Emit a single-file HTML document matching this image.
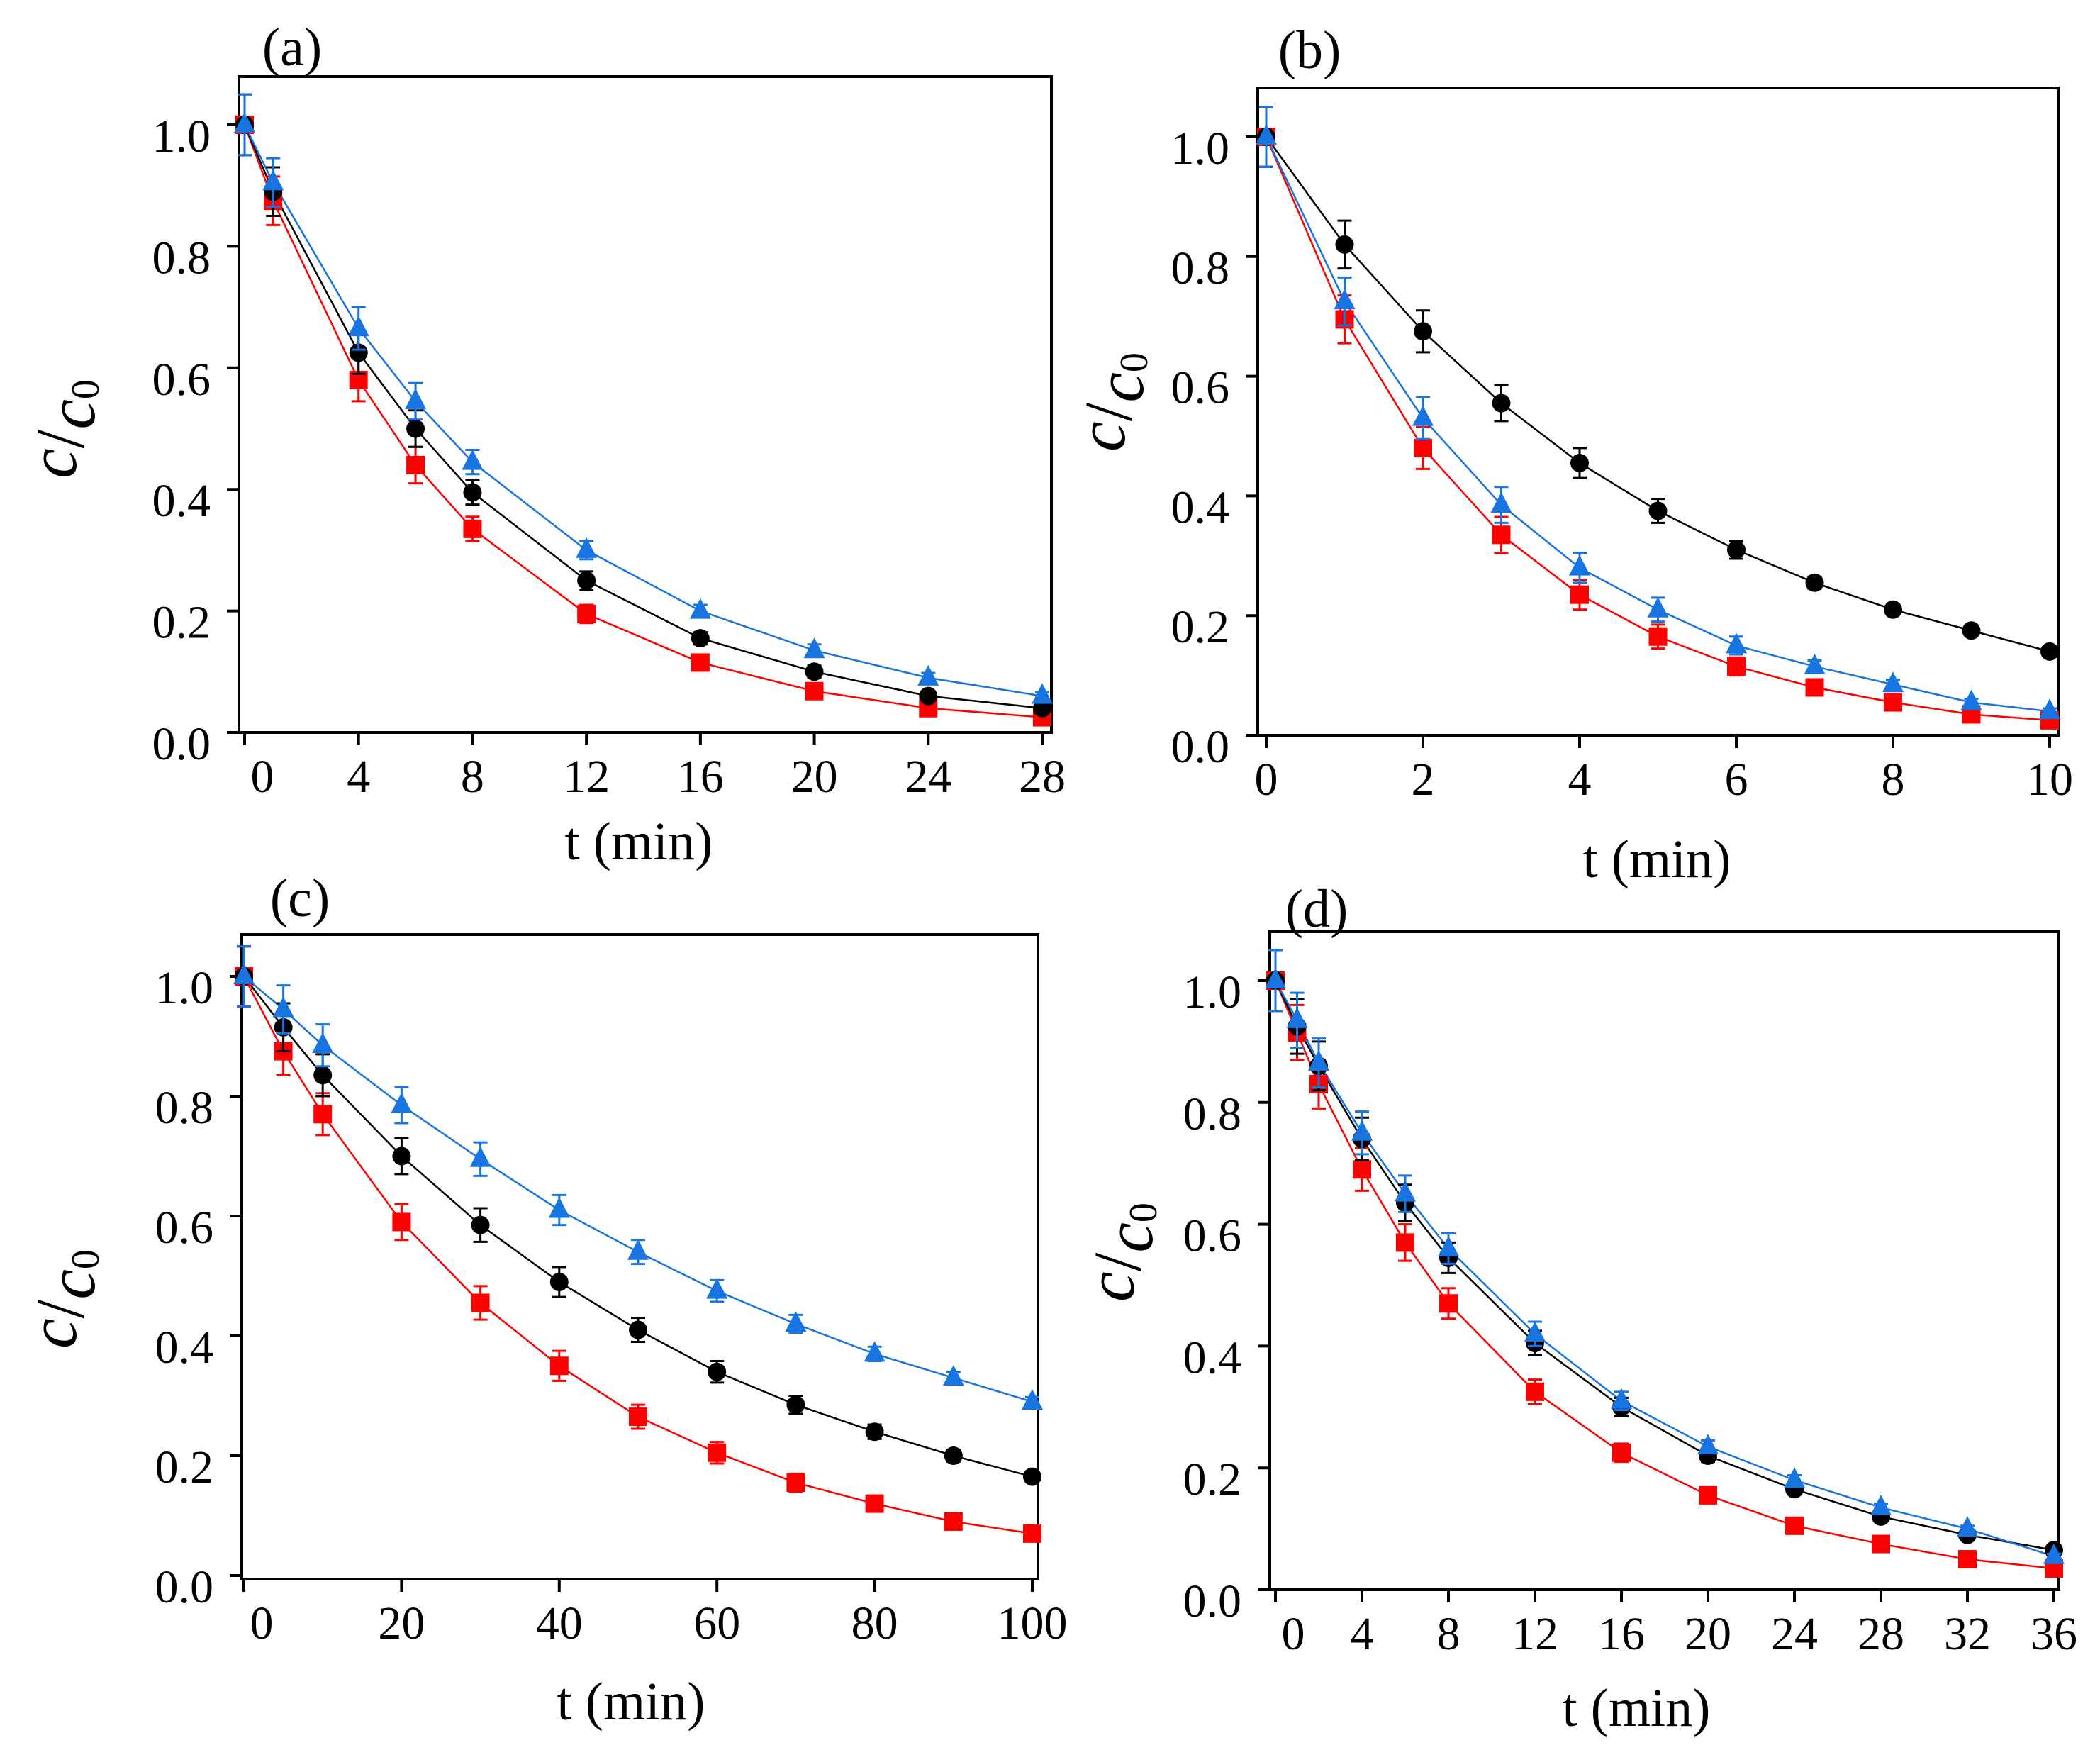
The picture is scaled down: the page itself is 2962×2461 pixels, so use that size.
<!DOCTYPE html>
<html><head><meta charset="utf-8">
<style>
html,body{margin:0;padding:0;background:#fff;}
svg{display:block;}
text{font-family:"Liberation Serif",serif;fill:#000;}
</style></head>
<body>
<svg id="fig" width="2962" height="2461" viewBox="0 0 2962 2461" xmlns="http://www.w3.org/2000/svg"></svg>
<script>
// ---- data ----
const aX=[0,1,4,6,8,12,16,20,24,28];
const aBlack=[1.0,0.89,0.625,0.50,0.395,0.25,0.155,0.10,0.06,0.04];
const aRed=[1.0,0.875,0.58,0.44,0.335,0.195,0.115,0.068,0.04,0.025];
const aBlue=[1.0,0.905,0.665,0.545,0.445,0.30,0.20,0.135,0.09,0.06];
const aErr=[0.05,0.04,0.035,0.03,0.02,0.015,0.01,0.01,0.008,0.006];
const aTicks=[0,4,8,12,16,20,24,28];

const bX=[0,1,2,3,4,5,6,7,8,9,10];
const bBlack=[1.0,0.82,0.675,0.555,0.455,0.375,0.31,0.255,0.21,0.175,0.14];
const bRed=[1.0,0.695,0.48,0.335,0.235,0.165,0.115,0.08,0.055,0.035,0.025];
const bBlue=[1.0,0.725,0.53,0.385,0.28,0.21,0.15,0.115,0.085,0.055,0.04];
const bErr=[0.05,0.04,0.035,0.03,0.025,0.02,0.015,0.01,0.008,0.006,0.005];
const bTicks=[0,2,4,6,8,10];

const cX=[0,5,10,20,30,40,50,60,70,80,90,100];
const cBlack=[1.0,0.915,0.835,0.70,0.585,0.49,0.41,0.34,0.285,0.24,0.20,0.165];
const cRed=[1.0,0.875,0.77,0.59,0.455,0.35,0.265,0.205,0.155,0.12,0.09,0.07];
const cBlue=[1.0,0.945,0.885,0.785,0.695,0.61,0.54,0.475,0.42,0.37,0.33,0.29];
const cErr=[0.05,0.04,0.035,0.03,0.028,0.025,0.02,0.018,0.015,0.012,0.01,0.008];
const cTicks=[0,20,40,60,80,100];

const dX=[0,1,2,4,6,8,12,16,20,24,28,32,36];
const dBlack=[1.0,0.925,0.86,0.74,0.635,0.545,0.405,0.30,0.22,0.165,0.12,0.09,0.065];
const dRed=[1.0,0.915,0.83,0.69,0.57,0.47,0.325,0.225,0.155,0.105,0.075,0.05,0.035];
const dBlue=[1.0,0.935,0.865,0.75,0.65,0.56,0.42,0.31,0.235,0.18,0.135,0.10,0.055];
const dErr=[0.05,0.045,0.04,0.035,0.03,0.025,0.02,0.015,0.01,0.008,0.006,0.005,0.004];
const dTicks=[0,4,8,12,16,20,24,28,32,36];

const yTicks=[0.0,0.2,0.4,0.6,0.8,1.0];

const NS="http://www.w3.org/2000/svg";
const svg=document.getElementById('fig');
function mk(tag,attrs,parent){const e=document.createElementNS(NS,tag);for(const k in attrs)e.setAttribute(k,attrs[k]);(parent||svg).appendChild(e);return e;}

const panels=[
 {id:'a',L:337,T:108,R:1483,B:1033,x0:345,xu:(1470-345)/28,y0:1033,yu:857,xs:aX,blk:aBlack,red:aRed,blu:aBlue,err:aErr,ticks:aTicks,zeroShift:25,
  lab:[412,66],xt:[901,1186],yt:[85,605]},
 {id:'b',L:1774,T:124,R:2903,B:1037,x0:1786,xu:(2891-1786)/10,y0:1037,yu:844,xs:bX,blk:bBlack,red:bRed,blu:bBlue,err:bErr,ticks:bTicks,zeroShift:0,
  lab:[1847,70],xt:[2337,1211],yt:[1564,567]},
 {id:'c',L:341,T:1318,R:1464,B:2227,x0:344,xu:(1456-344)/100,y0:2222,yu:845,xs:cX,blk:cBlack,red:cRed,blu:cBlue,err:cErr,ticks:cTicks,zeroShift:25,
  lab:[423,1266],xt:[890,2399],yt:[85,1832]},
 {id:'d',L:1791,T:1314,R:2904,B:2242,x0:1799,xu:(2897-1799)/36,y0:2242,yu:859,xs:dX,blk:dBlack,red:dRed,blu:dBlue,err:dErr,ticks:dTicks,zeroShift:25,
  lab:[1857,1281],xt:[2308,2408],yt:[1577,1766]}
];

panels.forEach(p=>{
  const g=mk('g',{});
  
  
  const X=v=>p.x0+v*p.xu, Y=v=>p.y0-v*p.yu;
  const frame=mk('rect',{x:p.L,y:p.T,width:p.R-p.L,height:p.B-p.T,fill:'none',stroke:'#000','stroke-width':4},g);
  
  
  yTicks.forEach(v=>{
    const y=Y(v);
    const t=mk('line',{x1:p.L-17,x2:p.L,y1:y,y2:y,stroke:'#000','stroke-width':4},g);
    
    
    const tx=mk('text',{x:p.L-40,y:y+38,'font-size':66,'text-anchor':'end'},g);
    tx.textContent=v.toFixed(1);
    
    
  });
  p.ticks.forEach(v=>{
    const x=X(v);
    const t=mk('line',{x1:x,x2:x,y1:p.B,y2:p.B+18,stroke:'#000','stroke-width':4},g);
    
    
    const tx=mk('text',{x:x+(v===0?p.zeroShift:0),y:p.B+84,'font-size':66,'text-anchor':'middle'},g);
    tx.textContent=String(v);
    
    
  });
  const lab=mk('text',{x:p.lab[0],y:p.lab[1]+26,'font-size':76,'text-anchor':'middle'},g);
  lab.textContent='('+p.id+')';
  
  
  const xt=mk('text',{x:p.xt[0],y:p.xt[1]+26,'font-size':76,'text-anchor':'middle'},g);
  xt.textContent='t (min)';
  
  
  const yt=mk('text',{x:0,y:0,'font-size':96,'font-style':'italic','text-anchor':'middle',transform:'translate('+(p.yt[0]+32)+','+p.yt[1]+') rotate(-90)'},g);
  yt.innerHTML='<tspan dy="-10">c</tspan><tspan dy="10" font-style="normal">/</tspan><tspan dy="16">c</tspan><tspan font-size="56" font-style="normal" dy="6">0</tspan>';
  
  

  const series=[['red',p.red,'#ff0000','square'],['black',p.blk,'#000000','circle'],['blue',p.blu,'#1874e0','triangle']];
  series.forEach(s=>{
    const pts=p.xs.map((x,i)=>X(x)+','+Y(s[1][i])).join(' ');
    const ln=mk('polyline',{points:pts,fill:'none',stroke:s[2],'stroke-width':2.5},g);
    
    
  });
  series.forEach(s=>{
    p.xs.forEach((xv,i)=>{
      const cx=X(xv), cy=Y(s[1][i]), e=p.err[i]*p.yu;
      const eb=mk('path',{d:`M${cx},${cy-e}V${cy+e}M${cx-10},${cy-e}H${cx+10}M${cx-10},${cy+e}H${cx+10}`,stroke:s[2],'stroke-width':3,fill:'none'},g);
      
      
      let m;
      if(s[3]==='square') m=mk('rect',{x:cx-13,y:cy-13,width:26,height:26,fill:s[2]},g);
      else if(s[3]==='circle') m=mk('circle',{cx:cx,cy:cy,r:13,fill:s[2]},g);
      else m=mk('polygon',{points:`${cx},${cy-18} ${cx-15},${cy+11} ${cx+15},${cy+11}`,fill:s[2]},g);
      
      
    });
  });
});
</script>
</body></html>
